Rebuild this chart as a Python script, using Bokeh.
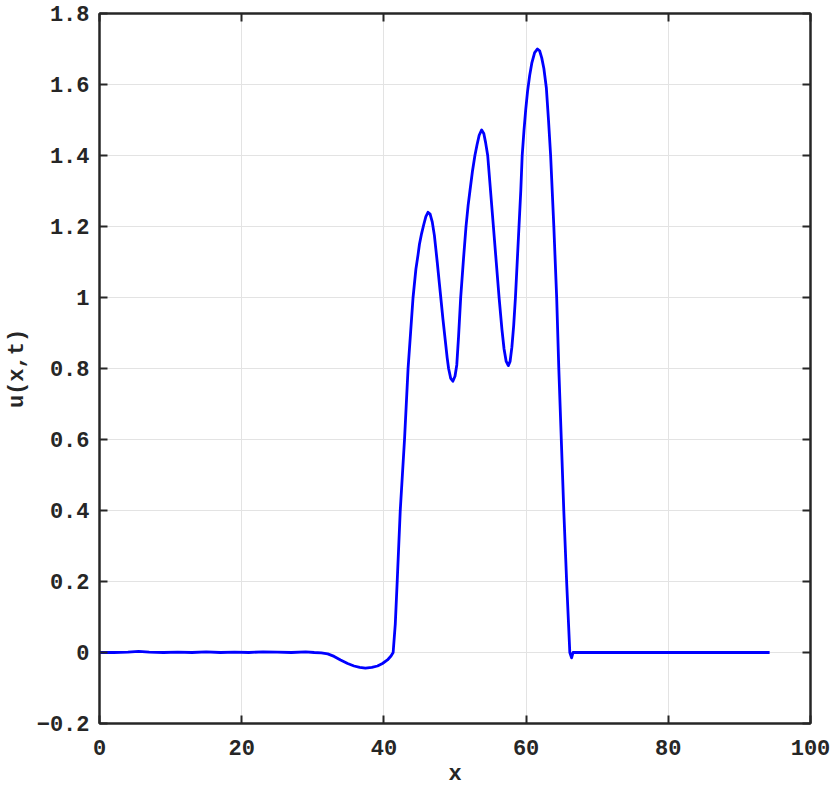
from bokeh.plotting import figure
from bokeh.models import Range1d, LinearAxis, FixedTicker
from bokeh.embed import file_html
from bokeh.resources import INLINE

# ---- data ----
x_vals = [0, 2, 4, 5.5, 7, 9, 11, 13, 15, 17, 19, 21, 23, 25, 27, 29,
          30.2, 31.2, 32.1, 33.0, 33.9, 34.9, 35.8, 36.6, 37.4, 38.3, 39.1, 39.8, 40.5, 41.0, 41.3,
          41.6, 41.87, 42.3, 42.6, 42.9, 43.15, 43.4, 43.75, 44.1, 44.5, 44.8, 45.0, 45.3, 45.6,
          45.9, 46.2, 46.5, 46.8, 47.1, 47.5, 47.8, 48.0, 48.3, 48.6, 48.9, 49.1, 49.4, 49.7,
          50.0, 50.25, 50.5, 50.8, 51.2, 51.55, 51.85, 52.1, 52.45, 52.8, 53.1, 53.4, 53.75, 54.05,
          54.3, 54.6, 55.0, 55.4, 55.8, 56.2, 56.6, 56.9, 57.2, 57.5, 57.75, 58.0, 58.25, 58.5,
          58.75, 59.0, 59.25, 59.45, 59.7, 59.95, 60.2, 60.5, 60.8, 61.2, 61.6, 61.9, 62.2, 62.5,
          62.85, 63.15, 63.45, 63.9, 64.3, 64.6, 64.95, 65.3, 65.7, 66.15, 66.4, 66.6,
          70, 75, 80, 85, 90, 94.25]
u_vals = [0.0, 0.0, 0.001, 0.003, 0.001, 0.0, 0.001, 0.0, 0.002, 0.0, 0.001, 0.0, 0.002, 0.001, 0.0, 0.002,
          0.0, -0.001, -0.004, -0.011, -0.021, -0.031, -0.038, -0.042, -0.044, -0.042, -0.038, -0.031, -0.021, -0.010, 0.0,
          0.08, 0.2, 0.4, 0.5, 0.6, 0.7, 0.8, 0.9, 1.0, 1.08, 1.12, 1.15, 1.18, 1.205,
          1.228, 1.24, 1.235, 1.213, 1.175, 1.1, 1.04, 1.0, 0.94, 0.885, 0.83, 0.8, 0.772, 0.764,
          0.778, 0.81, 0.89, 1.0, 1.11, 1.2, 1.26, 1.30, 1.355, 1.40, 1.43, 1.457, 1.472, 1.462,
          1.437, 1.4, 1.3, 1.2, 1.1, 1.0, 0.91, 0.855, 0.82, 0.808, 0.82, 0.86, 0.92, 1.0,
          1.1, 1.2, 1.3, 1.4, 1.47, 1.53, 1.58, 1.625, 1.66, 1.69, 1.70, 1.695, 1.675, 1.645,
          1.59, 1.5, 1.4, 1.2, 1.0, 0.8, 0.6, 0.4, 0.2, 0.0, -0.015, 0.0,
          0.0, 0.0, 0.0, 0.0, 0.0, 0.0]

x_ticks = [0, 20, 40, 60, 80, 100]
x_tick_labels = ["0", "20", "40", "60", "80", "100"]
y_ticks = [-0.2, 0, 0.2, 0.4, 0.6, 0.8, 1.0, 1.2, 1.4, 1.6, 1.8]
y_tick_labels = ["\u22120.2", "0", "0.2", "0.4", "0.6", "0.8", "1", "1.2", "1.4", "1.6", "1.8"]
x_label = "x"
y_label = "u(x,t)"

FONT = "Liberation Mono"
TXT = "#262626"
GRID = "#e3e3e3"

p = figure(width=830, height=795, output_backend="svg", toolbar_location=None,
           x_range=Range1d(0, 100), y_range=Range1d(-0.2, 1.8),
           min_border_left=99, min_border_right=20, min_border_top=13, min_border_bottom=72,
           x_axis_location=None, y_axis_location=None)
p.background_fill_color = "white"
p.border_fill_color = "white"
p.outline_line_color = TXT
p.outline_line_width = 2

def style_axis(ax, labels, show_labels, label_text=None, standoff=10, label_standoff=4):
    ax.major_tick_in = 8
    ax.major_tick_out = 0
    ax.minor_tick_line_color = None
    ax.axis_line_color = TXT
    ax.axis_line_width = 2
    ax.major_tick_line_color = TXT
    ax.major_tick_line_width = 2
    if show_labels:
        ax.major_label_overrides = labels
        ax.major_label_text_font = FONT
        ax.major_label_text_font_style = "bold"
        ax.major_label_text_font_size = "22px"
        ax.major_label_text_color = TXT
        ax.major_label_standoff = standoff
        if label_text:
            ax.axis_label = label_text
            ax.axis_label_text_font = FONT
            ax.axis_label_text_font_style = "bold"
            ax.axis_label_text_font_size = "22px"
            ax.axis_label_text_color = TXT
            ax.axis_label_standoff = label_standoff
    else:
        ax.major_label_text_font_size = "0px"
        ax.major_label_text_color = None
        ax.major_label_standoff = 0

xlab = {t: l for t, l in zip(x_ticks, x_tick_labels)}
ylab = {t: l for t, l in zip(y_ticks, y_tick_labels)}

bx = LinearAxis(ticker=FixedTicker(ticks=x_ticks))
style_axis(bx, xlab, True, x_label, standoff=16, label_standoff=4)
p.add_layout(bx, "below")
ly = LinearAxis(ticker=FixedTicker(ticks=y_ticks))
style_axis(ly, ylab, True, y_label, standoff=10, label_standoff=4)
p.add_layout(ly, "left")
tx = LinearAxis(ticker=FixedTicker(ticks=x_ticks))
style_axis(tx, xlab, False)
p.add_layout(tx, "above")
ry = LinearAxis(ticker=FixedTicker(ticks=y_ticks))
style_axis(ry, ylab, False)
p.add_layout(ry, "right")

p.xgrid.ticker = FixedTicker(ticks=x_ticks)
p.ygrid.ticker = FixedTicker(ticks=y_ticks)
for g in (p.xgrid, p.ygrid):
    g.grid_line_color = GRID
    g.grid_line_width = 1

p.line(x_vals, u_vals, line_color="#0000ff", line_width=2.8, line_join="round")

open("out.html", "w").write(file_html(p, INLINE))
